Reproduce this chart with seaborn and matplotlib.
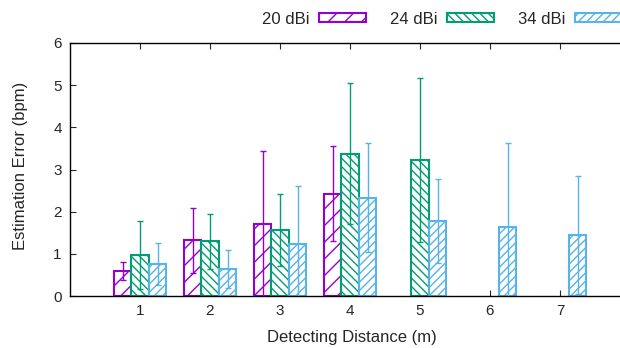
import matplotlib
matplotlib.use("Agg")
import matplotlib.pyplot as plt
import seaborn as sns
import pandas as pd
from matplotlib.patches import Patch

# ---- data ----
antennas = ["20 dBi", "24 dBi", "34 dBi"]
distances = [1, 2, 3, 4, 5, 6, 7]
mean_20 = [0.60, 1.32, 1.71, 2.43, None, None, None]
std_20 = [0.21, 0.77, 1.73, 1.13, None, None, None]
mean_24 = [0.97, 1.30, 1.56, 3.37, 3.22, None, None]
std_24 = [0.81, 0.65, 0.85, 1.67, 1.95, None, None]
mean_34 = [0.76, 0.64, 1.24, 2.33, 1.78, 1.63, 1.45]
std_34 = [0.49, 0.44, 1.36, 1.29, 1.00, 1.99, 1.40]

colors = ["#9400D3", "#009E73", "#56B4E9"]
hatches = ["//", "\\\\\\\\", "////"]

rows = []
for ant, means, stds in zip(antennas, [mean_20, mean_24, mean_34], [std_20, std_24, std_34]):
    for d, m, s in zip(distances, means, stds):
        if m is not None:
            rows.append({"dist": d, "antenna": ant, "mean": m, "std": s})
df = pd.DataFrame(rows)
lookup = {(r["antenna"], r["dist"]): (r["mean"], r["std"]) for _, r in df.iterrows()}

sns.set_style("white")
plt.rcParams["font.family"] = ["Liberation Sans", "DejaVu Sans"]
plt.rcParams["hatch.linewidth"] = 1.0

fig = plt.figure(figsize=(6.2, 3.48), dpi=100)
ax = fig.add_axes([70 / 620, 52 / 348, 560 / 620, 253 / 348])

sns.barplot(data=df, x="dist", y="mean", hue="antenna", order=distances,
            hue_order=antennas, width=0.75, ax=ax, legend=False,
            errorbar=None, saturation=1)

for bar in list(ax.patches):
    if bar.get_height() <= 0:
        continue
    cx = bar.get_x() + bar.get_width() / 2
    cat = int(round(cx))
    i = int(round((cx - cat) / 0.25)) + 1
    i = max(0, min(2, i))
    bar.set_facecolor("white")
    bar.set_edgecolor(colors[i])
    bar.set_hatch(hatches[i])
    bar.set_linewidth(1.5)
    key = (antennas[i], distances[cat])
    if key in lookup:
        m, s = lookup[key]
        ax.errorbar(cx, m, yerr=s, color=colors[i], lw=1.0, capsize=2.5,
                    capthick=1.0, zorder=5, fmt="none")

ax.set_xlim(-1, 7)
ax.set_ylim(0, 6)
ax.set_yticks(range(0, 7))
ax.set_xticks(range(len(distances)))
ax.set_xticklabels([str(d) for d in distances])
ax.tick_params(direction="in", length=4, width=0.8, labelsize=11,
               top=True, right=True, bottom=True, left=True, pad=6)
for sp in ax.spines.values():
    sp.set_visible(True)
    sp.set_color("black")
    sp.set_linewidth(1.0)

ax.set_xlabel("Detecting Distance (m)", fontsize=12, va="center")
ax.set_ylabel("Estimation Error (bpm)", fontsize=12, va="center")
ax.xaxis.set_label_coords(0.503, -0.166)
ax.yaxis.set_label_coords(-0.089, 0.515)

handles = [Patch(facecolor="white", edgecolor=c, hatch=h, linewidth=1.5)
           for c, h in zip(colors, hatches)]
fig.legend(handles, antennas, loc="center left",
           bbox_to_anchor=(254 / 620, 1 - 19 / 348), ncol=3, frameon=False,
           markerfirst=False, handlelength=2.8, handleheight=0.5,
           columnspacing=1.48, handletextpad=0.55, borderpad=0,
           fontsize=12)

fig.savefig("out.png", dpi=100)
